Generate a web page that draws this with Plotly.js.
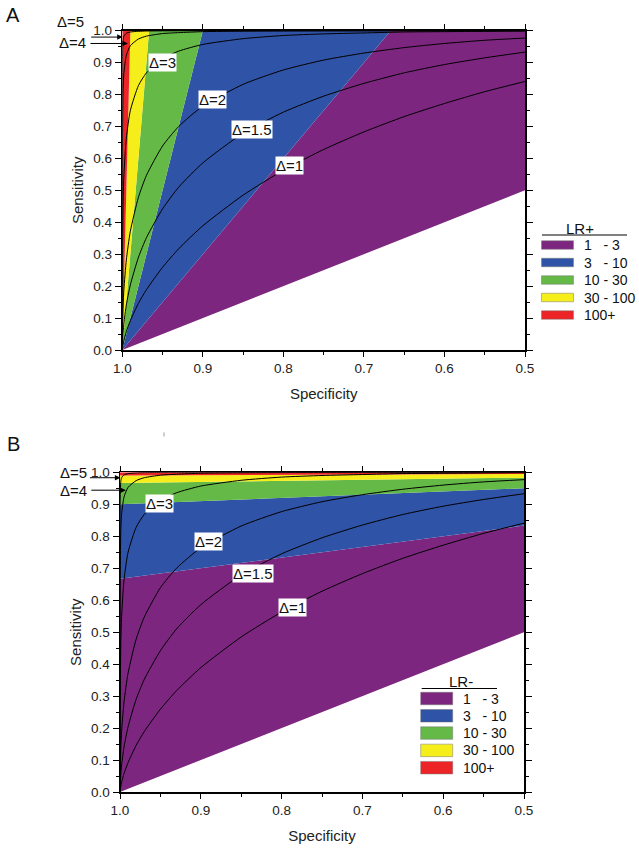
<!DOCTYPE html>
<html>
<head>
<meta charset="utf-8">
<script src="https://cdn.plot.ly/plotly-3.0.1.min.js"></script>
<style>html,body{margin:0;padding:0;background:#fff}#chart{width:639px;height:848px}</style>
</head>
<body>
<div id="chart"></div>
<script>
// ---------------- DATA ----------------
var bandLabels = ["1\u00A0\u00A0\u00A0- 3", "3\u00A0\u00A0\u00A0- 10", "10 - 30", "30 - 100", "100+"];
var bandColors = ["#7D267F", "#2F53A6", "#64B947", "#F6EE1A", "#EC2427"];

// Panel A (LR+) band polygons: specificity / sensitivity vertices
var bandA_spec = [
  [1.0, 0.5, 0.5, 0.6667, 1.0],
  [1.0, 0.6667, 0.9, 1.0],
  [1.0, 0.9, 0.9667, 1.0],
  [1.0, 0.9667, 0.99, 1.0],
  [1.0, 0.99, 1.0, 1.0]
];
var bandA_sens = [
  [0.0, 0.5, 1.0, 1.0, 0.0],
  [0.0, 1.0, 1.0, 0.0],
  [0.0, 1.0, 1.0, 0.0],
  [0.0, 1.0, 1.0, 0.0],
  [0.0, 1.0, 1.0, 0.0]
];

// Panel B (LR-) band polygons
var bandB_spec = [
  [1.0, 0.5, 0.5, 1.0, 1.0],
  [1.0, 0.5, 0.5, 1.0, 1.0],
  [1.0, 0.5, 0.5, 1.0, 1.0],
  [1.0, 0.5, 0.5, 1.0, 1.0],
  [1.0, 0.5, 0.5, 1.0, 1.0]
];
var bandB_sens = [
  [0.0, 0.5, 0.8333, 0.6667, 0.0],
  [0.6667, 0.8333, 0.95, 0.9, 0.6667],
  [0.9, 0.95, 0.9833, 0.9667, 0.9],
  [0.9667, 0.9833, 0.995, 0.99, 0.9667],
  [0.99, 0.995, 1.0, 1.0, 0.99]
];

// ROC curves
var curveSpec = [1.0, 0.9999, 0.999, 0.998, 0.995, 0.99, 0.98, 0.97, 0.95, 0.93, 0.9, 0.85, 0.8, 0.75, 0.7, 0.65, 0.6, 0.55, 0.5];
var curveNames = ["\u0394=1", "\u0394=1.5", "\u0394=2", "\u0394=3", "\u0394=4", "\u0394=5"];
var sensD1   = [0, 0.003, 0.018, 0.030, 0.058, 0.092, 0.146, 0.189, 0.259, 0.317, 0.389, 0.485, 0.563, 0.628, 0.683, 0.731, 0.772, 0.809, 0.841];
var sensD15  = [0, 0.013, 0.056, 0.084, 0.141, 0.204, 0.290, 0.352, 0.442, 0.510, 0.586, 0.679, 0.745, 0.795, 0.835, 0.868, 0.894, 0.915, 0.933];
var sensD2   = [0, 0.043, 0.138, 0.190, 0.282, 0.372, 0.478, 0.547, 0.639, 0.700, 0.764, 0.832, 0.877, 0.908, 0.930, 0.947, 0.960, 0.970, 0.977];
var sensD3   = [0, 0.236, 0.464, 0.549, 0.664, 0.750, 0.828, 0.868, 0.912, 0.936, 0.957, 0.975, 0.985, 0.990, 0.993, 0.996, 0.997, 0.998, 0.999];
var sensD4   = [0, 0.611, 0.819, 0.869, 0.923, 0.953, 0.974, 0.983, 0.991, 0.994, 0.997, 0.9985, 0.9992, 0.9995, 0.9997, 0.9998, 0.9999, 0.9999, 1.0];
var sensD5   = [0, 0.900, 0.972, 0.983, 0.992, 0.996, 0.998, 0.999, 0.9996, 0.9998, 0.9999, 1.0, 1.0, 1.0, 1.0, 1.0, 1.0, 1.0, 1.0];
var curveSens = [sensD1, sensD15, sensD2, sensD3, sensD4, sensD5];

// Curve label positions (specificity, sensitivity) for the boxed labels
var labelA_spec = [0.792, 0.839, 0.888, 0.950];
var labelA_sens = [0.577, 0.689, 0.783, 0.900];
var labelB_spec = [0.786, 0.835, 0.890, 0.951];
var labelB_sens = [0.576, 0.683, 0.784, 0.902];
// arrow targets for Δ=5 and Δ=4
var arrowA_spec = [0.9995, 0.993];
var arrowA_sens = [0.980, 0.960];
var arrowB_spec = [0.9995, 0.9928];
var arrowB_sens = [0.983, 0.944];

var tickVals = [0, 0.1, 0.2, 0.3, 0.4, 0.5, 0.6, 0.7, 0.8, 0.9, 1.0];
var xTickVals = [1.0, 0.9, 0.8, 0.7, 0.6, 0.5];

// ---------------- BUILD ----------------
var W = 639, H = 848;
function px(x) { return x / W; }
function py(y) { return 1 - y / H; }

var traces = [];
function addPanel(xa, ya, bSpec, bSens) {
  for (var i = 0; i < bSpec.length; i++) {
    traces.push({
      type: "scatter", mode: "lines", x: bSpec[i], y: bSens[i],
      fill: "toself", fillcolor: bandColors[i], line: {width: 0, color: bandColors[i]},
      xaxis: xa, yaxis: ya, showlegend: false, hoverinfo: "skip"
    });
  }
  for (var j = 0; j < curveSens.length; j++) {
    traces.push({
      type: "scatter", mode: "lines", x: curveSpec, y: curveSens[j], name: curveNames[j],
      line: {color: "#000", width: 1, shape: "spline", smoothing: 0.6},
      xaxis: xa, yaxis: ya, showlegend: false, hoverinfo: "skip"
    });
  }
}
addPanel("x", "y", bandA_spec, bandA_sens);
addPanel("x2", "y2", bandB_spec, bandB_sens);

var FAM = "Liberation Sans, Arial, sans-serif";
var tickFont = {family: FAM, size: 13.5, color: "#222"};
function xAxis(domain, anchor) {
  return {
    domain: domain, anchor: anchor, range: [1.0, 0.5], autorange: false,
    tickvals: xTickVals, tickformat: ".1f", ticks: "outside", ticklen: 5, tickwidth: 1, tickcolor: "#000",
    minor: {dtick: 0.05, ticklen: 3, tickwidth: 1, tickcolor: "#000", ticks: "outside"},
    showline: true, linecolor: "#000", linewidth: 1.5, mirror: "ticks",
    showgrid: false, zeroline: false, tickfont: tickFont,
    title: {text: "Specificity", font: {family: FAM, size: 15, color: "#222"}, standoff: 14}
  };
}
function yAxis(domain, anchor) {
  return {
    domain: domain, anchor: anchor, range: [0, 1.0], autorange: false,
    tickvals: tickVals, tickformat: ".1f", ticks: "outside", ticklen: 6, tickwidth: 1, tickcolor: "#000",
    minor: {dtick: 0.05, ticklen: 3, tickwidth: 1, tickcolor: "#000", ticks: "outside"},
    showline: true, linecolor: "#000", linewidth: 1.5, mirror: "ticks",
    showgrid: false, zeroline: false, tickfont: tickFont,
    title: {text: "Sensitivity", font: {family: FAM, size: 15, color: "#222"}, standoff: 6}
  };
}

var annFont = {family: FAM, size: 15, color: "#111"};
var annotations = [];
var shapes = [];

function paperText(x, y, text, font, xanchor) {
  annotations.push({x: px(x), y: py(y), xref: "paper", yref: "paper", text: text, showarrow: false,
    xanchor: xanchor || "center", yanchor: "middle", font: font});
}

function panelDecor(xa, ya, lSpec, lSens, aSpec, aSens, d5px, d4px, aTail, legTop, legTitle, legTitleX, legX0, legRowH, swH, ulX0, ulX1) {
  // boxed curve labels
  for (var i = 0; i < lSpec.length; i++) {
    annotations.push({x: lSpec[i], y: lSens[i], xref: xa, yref: ya, text: curveNames[i], showarrow: false,
      xanchor: "center", yanchor: "middle", bgcolor: "#fff", borderpad: 0, font: annFont});
  }
  // arrows for Δ=5 and Δ=4
  for (var k = 0; k < 2; k++) {
    annotations.push({x: aSpec[k], y: aSens[k], xref: xa, yref: ya, text: "", showarrow: true,
      ax: aTail[k], ay: 0, arrowhead: 2, arrowsize: 1.1, arrowwidth: 1, arrowcolor: "#000"});
  }
  paperText(d5px[0], d5px[1], curveNames[5], annFont);
  paperText(d4px[0], d4px[1], curveNames[4], annFont);
  // legend
  paperText(legTitleX, legTop, legTitle, {family: FAM, size: 15, color: "#111"});
  shapes.push({type: "line", xref: "paper", yref: "paper", x0: px(ulX0), x1: px(ulX1), y0: py(legTop + 7), y1: py(legTop + 7),
    line: {color: "#000", width: 1}});
  for (var r = 0; r < bandLabels.length; r++) {
    var cy = legTop + 17 + r * legRowH;
    shapes.push({type: "rect", xref: "paper", yref: "paper", x0: px(legX0), x1: px(legX0 + 32),
      y0: py(cy - swH / 2), y1: py(cy + swH / 2), fillcolor: bandColors[r], line: {color: "#777", width: 0.5}});
    paperText(legX0 + 40, cy, bandLabels[r], {family: FAM, size: 14, color: "#111"}, "left");
  }
}

panelDecor("x", "y", labelA_spec, labelA_sens, arrowA_spec, arrowA_sens,
  [70, 22], [72.5, 43], [-33, -39], 228, "LR+", 580, 541.5, 17.5, 8.5, 542, 627);
panelDecor("x2", "y2", labelB_spec, labelB_sens, arrowB_spec, arrowB_sens,
  [73, 472.3], [73, 490], [-32, -36], 681.5, "LR-", 461, 420.7, 17.3, 12.5, 421.7, 497);

paperText(12.5, 15, "A", {family: FAM, size: 20, color: "#111"});
paperText(13, 444, "B", {family: FAM, size: 20, color: "#111"});
shapes.push({type: "line", xref: "paper", yref: "paper", x0: px(164), x1: px(164), y0: py(432.5), y1: py(436.5),
  line: {color: "#999", width: 1}});

var layout = {
  width: W, height: H, margin: {l: 0, r: 0, t: 0, b: 0},
  paper_bgcolor: "#fff", plot_bgcolor: "#fff", showlegend: false,
  xaxis: xAxis([122.3 / W, 525 / W], "y"),
  yaxis: yAxis([py(350), py(30.7)], "x"),
  xaxis2: xAxis([120 / W, 524 / W], "y2"),
  yaxis2: yAxis([py(792), py(472.3)], "x2"),
  annotations: annotations, shapes: shapes,
  font: {family: FAM}
};

Plotly.newPlot("chart", traces, layout, {staticPlot: true, displayModeBar: false});
</script>
</body>
</html>
